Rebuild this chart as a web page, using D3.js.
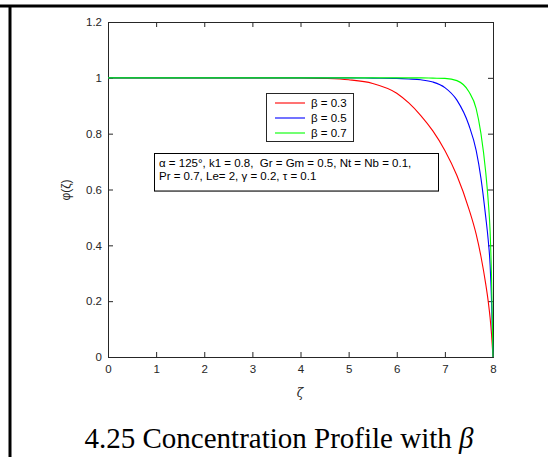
<!DOCTYPE html>
<html><head><meta charset="utf-8">
<script src="https://cdn.jsdelivr.net/npm/d3@7"></script>
<style>body{margin:0;background:#fff}svg{display:block}</style>
</head><body>
<script>
const zeta = [0,1,2,3,4,4.5,5,5.5,6,6.25,6.5,6.75,7,7.25,7.5,7.65,7.75,7.85,7.9,7.94,7.97,8];
const phi03 = [1,1,1,1,1,0.998,0.993,0.98,0.945,0.91,0.865,0.81,0.74,0.65,0.53,0.44,0.36,0.26,0.2,0.14,0.08,0];
const phi05 = [1,1,1,1,1,1,1,0.999,0.998,0.996,0.993,0.985,0.965,0.92,0.83,0.74,0.64,0.5,0.42,0.33,0.2,0];
const phi07 = [1,1,1,1,1,1,1,1,1,1,1,0.999,0.998,0.99,0.95,0.89,0.8,0.66,0.56,0.45,0.28,0];
const seriesNames = ["β = 0.3","β = 0.5","β = 0.7"];
const seriesColors = ["#ff0000","#0000ff","#00ff00"];
const xTicks = [0,1,2,3,4,5,6,7,8];
const yTicks = [0,0.2,0.4,0.6,0.8,1,1.2];
const infoLines = ["α = 125°, k1 = 0.8,  Gr = Gm = 0.5, Nt = Nb = 0.1,","Pr = 0.7, Le= 2, γ = 0.2, τ = 0.1"];

const W=548,H=457;
const svg=d3.select("body").append("svg").attr("width",W).attr("height",H);
svg.append("rect").attr("width",W).attr("height",H).attr("fill","#fff");
// page frame
svg.append("line").attr("x1",0).attr("x2",W).attr("y1",6).attr("y2",6).attr("stroke","#000").attr("stroke-width",3);
svg.append("line").attr("x1",10).attr("x2",10).attr("y1",5).attr("y2",H).attr("stroke","#000").attr("stroke-width",3);

const L=108,R=493,T=22,B=357;
const x=d3.scaleLinear().domain([0,8]).range([L,R]);
const y=d3.scaleLinear().domain([0,1.2]).range([B,T]);
const axCol="#262626";
const font="'Liberation Sans', Arial, sans-serif";

const gx=svg.append("g").attr("transform",`translate(0,${B})`)
 .call(d3.axisBottom(x).tickValues(xTicks).tickSize(-5).tickPadding(8).tickFormat(d3.format("d")));
const gxt=svg.append("g").attr("transform",`translate(0,${T})`)
 .call(d3.axisTop(x).tickValues(xTicks).tickSize(-5).tickFormat(""));
const gy=svg.append("g").attr("transform",`translate(${L},0)`)
 .call(d3.axisLeft(y).tickValues(yTicks).tickSize(-5).tickPadding(6).tickFormat(d=>d3.format("~g")(d)));
const gyr=svg.append("g").attr("transform",`translate(${R},0)`)
 .call(d3.axisRight(y).tickValues(yTicks).tickSize(-5).tickFormat(""));
[gx,gxt,gy,gyr].forEach(g=>{
  g.selectAll("path").attr("stroke",axCol).attr("stroke-width",1);
  g.selectAll("line").attr("stroke",axCol);
  g.selectAll("text").attr("fill",axCol).attr("font-family",font).attr("font-size",11.5);
});

const data=[phi03,phi05,phi07];
const line=d3.line().x((d,i)=>x(zeta[i])).y(d=>y(d)).curve(d3.curveMonotoneX);
data.forEach((s,k)=>{
  svg.append("path").datum(s).attr("d",line).attr("fill","none")
   .attr("stroke",seriesColors[k]).attr("stroke-width",1.1);
});

// axis labels
svg.append("text").attr("x",300).attr("y",397).attr("text-anchor","middle")
 .attr("font-family","'DejaVu Serif', serif").attr("font-style","italic").attr("font-size",12).attr("fill",axCol).text("ζ");
svg.append("text").attr("transform","translate(70,190) rotate(-90)").attr("text-anchor","middle")
 .attr("font-family",font).attr("font-size",12).attr("fill",axCol).text("φ(ζ)");

// legend
const lg=svg.append("g");
lg.append("rect").attr("x",266.5).attr("y",93.5).attr("width",87).attr("height",48).attr("fill","#fff").attr("stroke",axCol);
seriesNames.forEach((n,k)=>{
  const yy=103+k*15;
  lg.append("line").attr("x1",275).attr("x2",305).attr("y1",yy).attr("y2",yy).attr("stroke",seriesColors[k]).attr("stroke-width",1.1);
  lg.append("text").attr("x",311).attr("y",yy+4).attr("font-family",font).attr("font-size",11.5).attr("fill","#000").text(n);
});

// info box
svg.append("rect").attr("x",154.5).attr("y",153.5).attr("width",284).attr("height",37.5).attr("fill","#fff").attr("stroke","#000");
svg.append("line").attr("x1",154).attr("x2",439).attr("y1",191.5).attr("y2",191.5).attr("stroke","#666").attr("stroke-width",1);
infoLines.forEach((t,i)=>{
  svg.append("text").attr("x",159).attr("y",167+i*13).attr("font-family",font).attr("font-size",11.5).attr("fill","#000").attr("xml:space","preserve").style("white-space","pre").text(t);
});

// caption
const cap=svg.append("text").attr("x",279).attr("y",448).attr("text-anchor","middle")
 .attr("font-family","'Liberation Serif','Times New Roman',serif").attr("font-size",29).attr("fill","#000");
cap.append("tspan").text("4.25 Concentration Profile with ");
cap.append("tspan").attr("font-style","italic").text("β");
</script>
</body></html>
